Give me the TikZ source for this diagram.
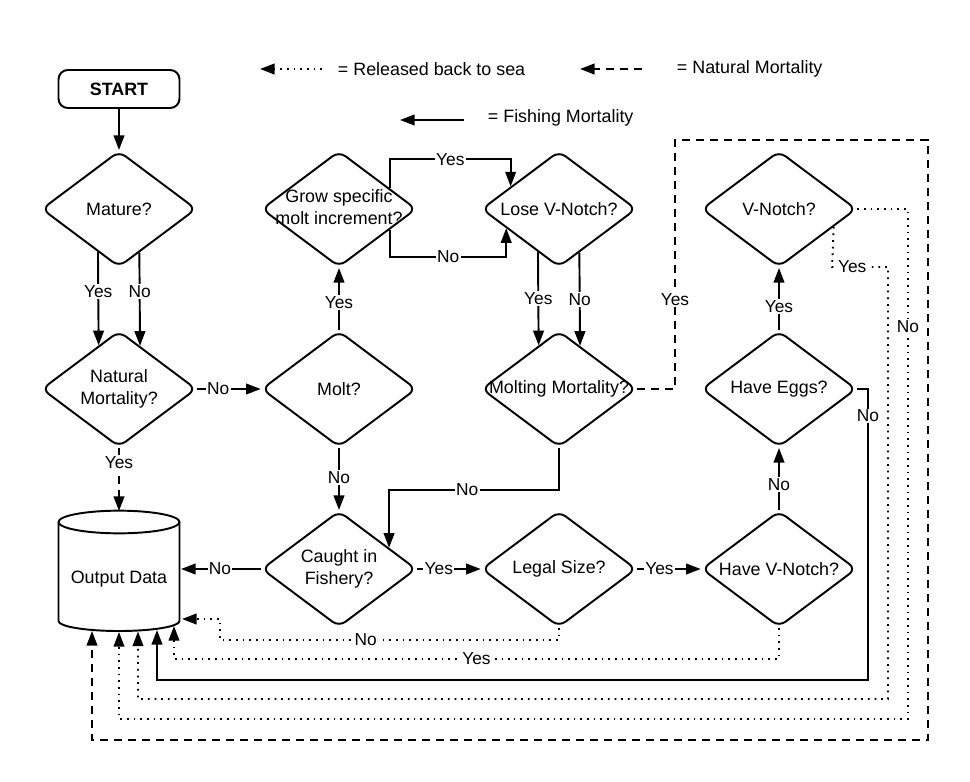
\documentclass[tikz,border=0pt]{standalone}
\usepackage{fontspec}
\setmainfont{Liberation Sans}
\usetikzlibrary{shapes.geometric,arrows.meta}
\newcommand{\ztx}[1]{\makebox[0pt]{#1}}
\newcommand{\ztwo}[2]{\makebox[0pt]{\begin{tabular}{@{}c@{}}#1\\#2\end{tabular}}}
\begin{document}
\begin{tikzpicture}[x=0.75pt,y=-0.75pt,
  line width=1.45pt,
  txt/.style={font=\fontsize{13.4}{16.2}\selectfont},
  dia/.style={diamond,draw,rounded corners=6pt,minimum width=116pt,minimum height=87pt,inner sep=0pt,txt},
  lbl/.style={fill=white,inner sep=1pt,font=\fontsize{13}{15}\selectfont},
  arr/.style={-{Triangle[length=11pt,width=8pt]}},
  fish/.style={arr},
  nat/.style={arr,dash pattern=on 6pt off 4.5pt},
  rel/.style={arr,dash pattern=on 1.3pt off 3.7pt},
]
\useasboundingbox (0,0) rectangle (970,781);

% legend
\coordinate (l1s) at (322,69); \coordinate (l1e) at (260,69);
\draw[rel] (l1s) -- (l1e);
\node[txt,anchor=west,inner sep=0pt] (l1t) at (337,69) {= Released back to sea};
\coordinate (l2s) at (642,69); \coordinate (l2e) at (580,69);
\draw[nat] (l2s) -- (l2e);
\node[txt,anchor=west,inner sep=0pt] (l2t) at (676,69) {= Natural Mortality};
\coordinate (l3s) at (464,120); \coordinate (l3e) at (400,120);
\draw[fish] (l3s) -- (l3e);
\node[txt,anchor=west,inner sep=0pt] (l3t) at (487,118) {= Fishing Mortality};

% nodes
\node[draw,rounded corners=7pt,minimum width=90.75pt,minimum height=28.5pt,inner sep=0pt,font=\bfseries\fontsize{13.4}{16}\selectfont] (start) at (119,89) {START};
\node[dia] (mature) at (119,209) {\ztx{Mature?}};
\node[dia] (natm) at (119,389) {\ztwo{Natural}{Mortality?}};
\node[dia] (molt) at (339,389) {\ztx{Molt?}};
\node[dia] (grow) at (339,209) {\ztwo{Grow specific}{molt increment?}};
\node[dia] (lose) at (559,209) {\ztx{Lose V-Notch?}};
\node[dia] (moltm) at (559,389) {\ztx{Molting Mortality?}};
\node[dia] (caught) at (339,569) {\ztwo{Caught in}{Fishery?}};
\node[dia] (legal) at (559,569) {\ztx{Legal Size?}};
\node[dia] (havev) at (779,569) {\ztx{Have V-Notch?}};
\node[dia] (eggs) at (779,389) {\ztx{Have Eggs?}};
\node[dia] (vnotch) at (779,209) {\ztx{V-Notch?}};

% output data cylinder
\node[txt,inner sep=0pt,minimum width=90.75pt,minimum height=60pt] (out) at (119,579) {Output Data};
\draw (58.5,522) -- (58.5,621) arc[start angle=180,end angle=360,x radius=45.375pt,y radius=7.5pt] -- (179.5,522);
\draw (119,522) ellipse[x radius=45.375pt,y radius=8.5pt];
\coordinate (outtop) at (119,511);
\coordinate (oright) at (181,569);
\coordinate (oside) at (182,619);
\coordinate (ob1) at (92,631);
\coordinate (ob2) at (119,632);
\coordinate (ob3) at (138,631.5);
\coordinate (ob4) at (157,630);
\coordinate (ob5) at (174,626);

% connectors
\draw[arr] (start.south) -- (mature.north);
\draw[arr] (mature.244.5) -- node[lbl,pos=.42]{Yes} (natm.115.5);
\draw[arr] (mature.295.5) -- node[lbl,pos=.42]{No} (natm.64.5);
\draw[arr] (natm) -- node[lbl,pos=.33]{No} (molt);
\draw[nat] (natm.south) -- node[lbl,pos=.23]{Yes} (outtop);
\draw[arr] (molt) -- node[lbl,pos=.44]{Yes} (grow);
\draw[arr] (molt) -- node[lbl,pos=.48]{No} (caught);
\draw[arr] (grow.22.5) -- ++(0,-29) -| node[lbl,pos=.25]{Yes} (lose.155);
\draw[arr] (grow.-22.5) -- ++(0,27) -| node[lbl,pos=.25]{No} (lose.200);
\draw[arr] (lose.244.5) -- node[lbl]{Yes} (moltm.115.5);
\draw[arr] (lose.295.5) -- node[lbl]{No} (moltm.64.5);
\draw[arr] (moltm.south) -- ++(0,42) -| node[lbl,pos=.27]{No} (caught.23.6);
\draw[fish] (caught) -- node[lbl,pos=.51]{No} (oright);
\draw[arr] (caught) -- node[lbl,pos=.34]{Yes} (legal);
\draw[arr] (legal) -- node[lbl,pos=.35]{Yes} (havev);
\draw[arr] (havev) -- node[lbl,pos=.41]{No} (eggs);
\draw[arr] (eggs) -- node[lbl,pos=.38]{Yes} (vnotch);

% return routes to output
\draw[nat] (moltm.east) -- (675,389) -- node[lbl,pos=.36]{Yes} (675,140) -- (928,140) -- (928,740) -- (92,740) -- (ob1);
\draw[fish] (eggs.east) -- (868,389) -- node[lbl,pos=.093]{No} (868,680) -- (157,680) -- (ob4);
\draw[rel] (vnotch.east) -- (908,209) -- node[lbl,pos=.23]{No} (908,719) -- (119,719) -- (ob2);
\draw[rel] (vnotch.-18) -- (832,267) -- node[lbl,pos=.36]{Yes} (888,267) -- (888,699) -- (138,699) -- (ob3);
\draw[rel] (havev.south) -- (779,659) -- node[lbl,pos=.5]{Yes} (174,659) -- (ob5);
\draw[rel] (legal.south) -- (559,640) -- node[lbl,pos=.57]{No} (220,640) -- (220,619) -- (oside);
\end{tikzpicture}
\end{document}
